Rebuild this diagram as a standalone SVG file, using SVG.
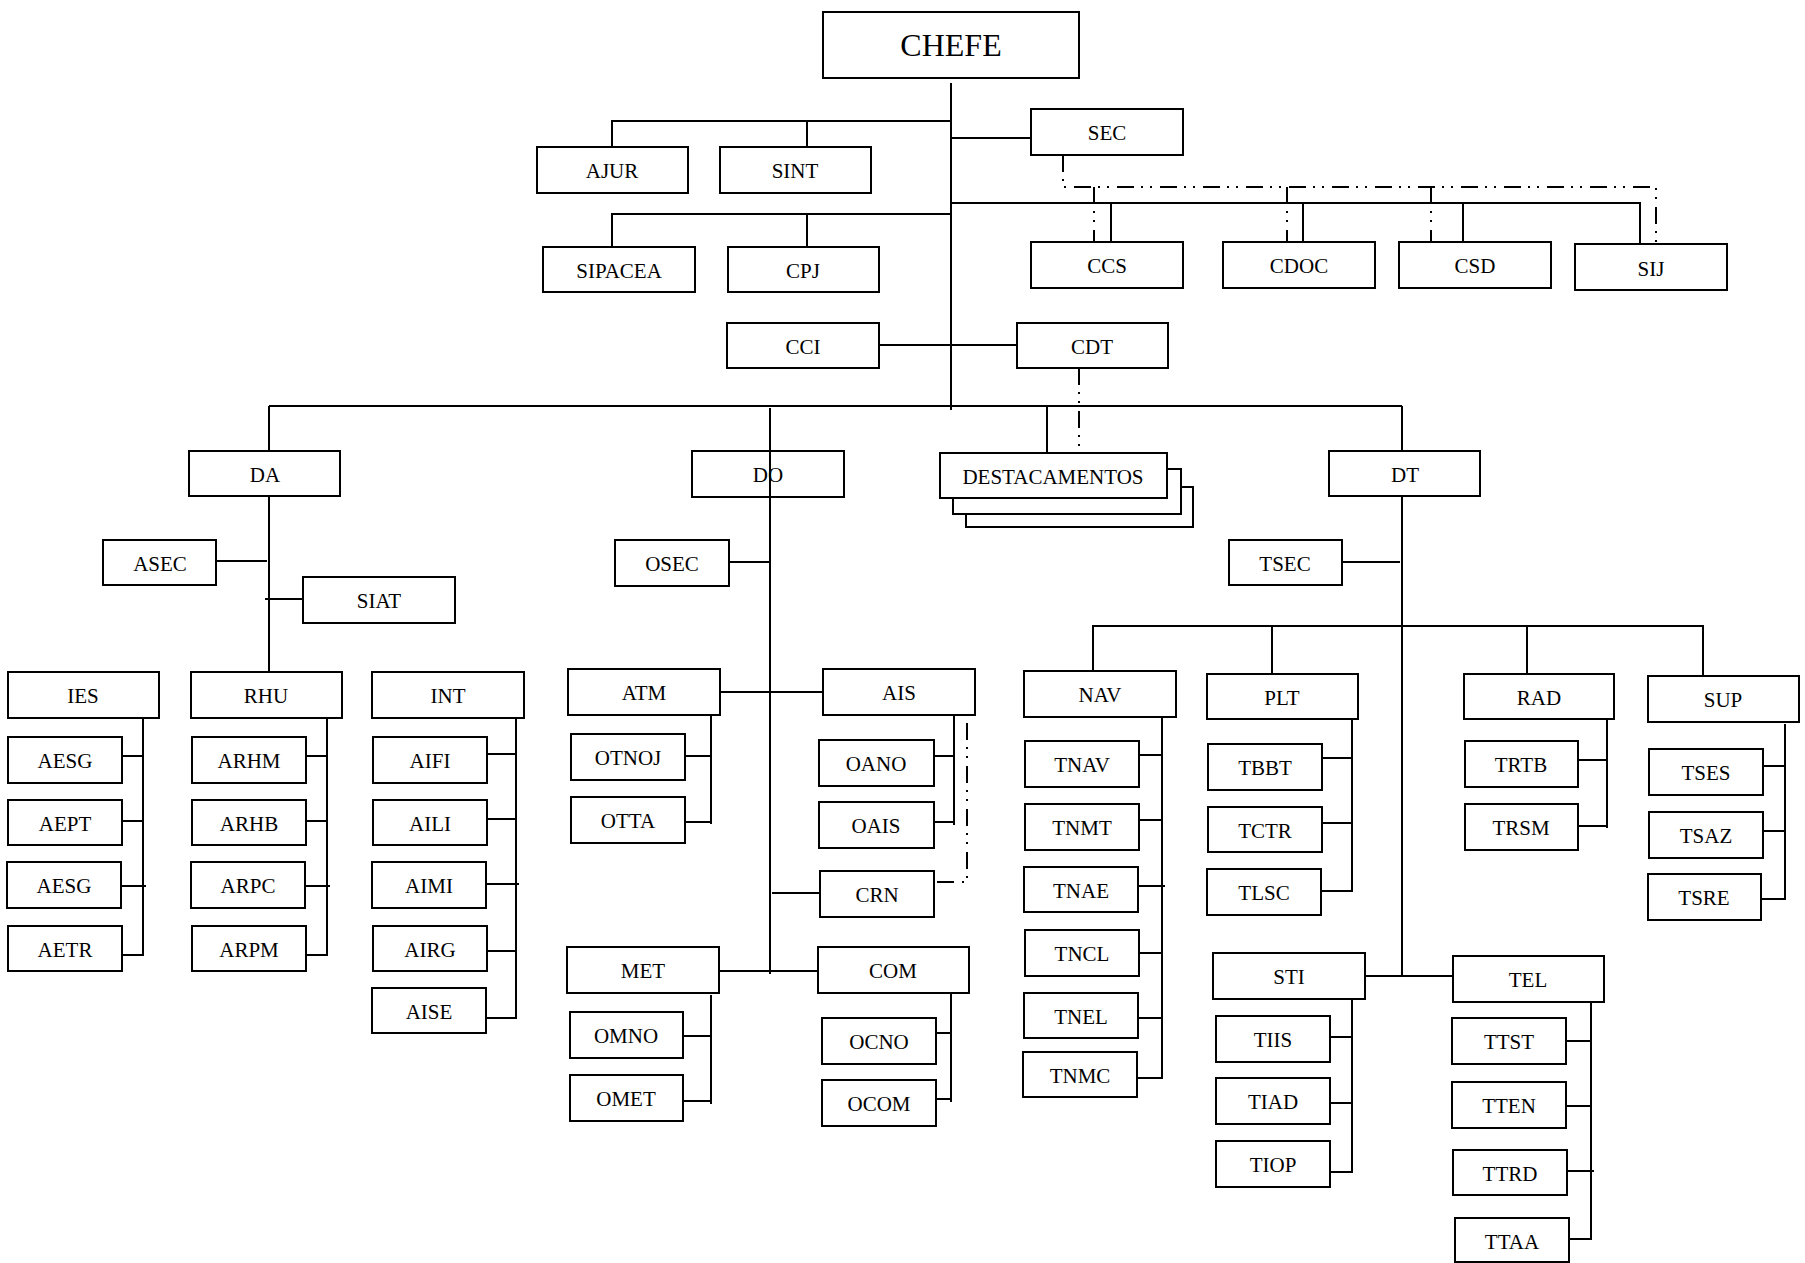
<svg xmlns="http://www.w3.org/2000/svg" width="1805" height="1263" viewBox="0 0 1805 1263">
<style>
rect{fill:#fff;stroke:#000;stroke-width:2}
text{font-family:"Liberation Serif","Times New Roman",serif;font-size:21px;fill:#000;text-anchor:middle}
.big{font-size:32px}
#connectors line,#connectors polyline{stroke:#000;stroke-width:2;fill:none}
#connectors .dd{stroke-dasharray:17 7 2 7 2 8}
</style>
<rect x="0" y="0" width="1805" height="1263" style="stroke:none"/>
<g id="nodes">
<g id="n-chefe"><rect x="823" y="12" width="256" height="66"/><text class="big" x="951" y="56">CHEFE</text></g>
<g id="n-sec"><rect x="1031" y="109" width="152" height="46"/><text x="1107" y="140">SEC</text></g>
<g id="n-ajur"><rect x="537" y="147" width="151" height="46"/><text x="612" y="178">AJUR</text></g>
<g id="n-sint"><rect x="720" y="147" width="151" height="46"/><text x="795" y="178">SINT</text></g>
<g id="n-sipacea"><rect x="543" y="247" width="152" height="45"/><text x="619" y="278">SIPACEA</text></g>
<g id="n-cpj"><rect x="728" y="247" width="151" height="45"/><text x="803" y="278">CPJ</text></g>
<g id="n-ccs"><rect x="1031" y="242" width="152" height="46"/><text x="1107" y="273">CCS</text></g>
<g id="n-cdoc"><rect x="1223" y="242" width="152" height="46"/><text x="1299" y="273">CDOC</text></g>
<g id="n-csd"><rect x="1399" y="242" width="152" height="46"/><text x="1475" y="273">CSD</text></g>
<g id="n-sij"><rect x="1575" y="244" width="152" height="46"/><text x="1651" y="276">SIJ</text></g>
<g id="n-cci"><rect x="727" y="323" width="152" height="45"/><text x="803" y="354">CCI</text></g>
<g id="n-cdt"><rect x="1017" y="323" width="151" height="45"/><text x="1092" y="354">CDT</text></g>
<g id="n-da"><rect x="189" y="451" width="151" height="45"/><text x="265" y="482">DA</text></g>
<g id="n-do"><rect x="692" y="451" width="152" height="46"/><text x="768" y="482">DO</text></g>
<g id="n-destacamentos"><rect x="966" y="487" width="227" height="40"/><rect x="953" y="469" width="228" height="45"/><rect x="940" y="453" width="227" height="45"/><text x="1053" y="484">DESTACAMENTOS</text></g>
<g id="n-dt"><rect x="1329" y="451" width="151" height="45"/><text x="1405" y="482">DT</text></g>
<g id="n-asec"><rect x="103" y="540" width="113" height="45"/><text x="160" y="571">ASEC</text></g>
<g id="n-siat"><rect x="303" y="577" width="152" height="46"/><text x="379" y="608">SIAT</text></g>
<g id="n-osec"><rect x="615" y="540" width="114" height="46"/><text x="672" y="571">OSEC</text></g>
<g id="n-tsec"><rect x="1229" y="540" width="113" height="45"/><text x="1285" y="571">TSEC</text></g>
<g id="n-ies"><rect x="8" y="672" width="151" height="46"/><text x="83" y="703">IES</text></g>
<g id="n-rhu"><rect x="191" y="672" width="151" height="46"/><text x="266" y="703">RHU</text></g>
<g id="n-int"><rect x="372" y="672" width="152" height="46"/><text x="448" y="703">INT</text></g>
<g id="n-aesg1"><rect x="8" y="737" width="114" height="46"/><text x="65" y="768">AESG</text></g>
<g id="n-aept"><rect x="8" y="800" width="114" height="45"/><text x="65" y="831">AEPT</text></g>
<g id="n-aesg2"><rect x="7" y="862" width="114" height="46"/><text x="64" y="893">AESG</text></g>
<g id="n-aetr"><rect x="8" y="926" width="114" height="45"/><text x="65" y="957">AETR</text></g>
<g id="n-arhm"><rect x="192" y="737" width="114" height="46"/><text x="249" y="768">ARHM</text></g>
<g id="n-arhb"><rect x="192" y="800" width="114" height="45"/><text x="249" y="831">ARHB</text></g>
<g id="n-arpc"><rect x="191" y="862" width="114" height="46"/><text x="248" y="893">ARPC</text></g>
<g id="n-arpm"><rect x="192" y="926" width="114" height="45"/><text x="249" y="957">ARPM</text></g>
<g id="n-aifi"><rect x="373" y="737" width="114" height="46"/><text x="430" y="768">AIFI</text></g>
<g id="n-aili"><rect x="373" y="800" width="114" height="45"/><text x="430" y="831">AILI</text></g>
<g id="n-aimi"><rect x="372" y="862" width="114" height="46"/><text x="429" y="893">AIMI</text></g>
<g id="n-airg"><rect x="373" y="926" width="114" height="45"/><text x="430" y="957">AIRG</text></g>
<g id="n-aise"><rect x="372" y="988" width="114" height="45"/><text x="429" y="1019">AISE</text></g>
<g id="n-atm"><rect x="568" y="669" width="152" height="46"/><text x="644" y="700">ATM</text></g>
<g id="n-ais"><rect x="823" y="669" width="152" height="46"/><text x="899" y="700">AIS</text></g>
<g id="n-otnoj"><rect x="571" y="734" width="114" height="46"/><text x="628" y="765">OTNOJ</text></g>
<g id="n-otta"><rect x="571" y="797" width="114" height="46"/><text x="628" y="828">OTTA</text></g>
<g id="n-oano"><rect x="819" y="740" width="115" height="46"/><text x="876" y="771">OANO</text></g>
<g id="n-oais"><rect x="819" y="802" width="115" height="46"/><text x="876" y="833">OAIS</text></g>
<g id="n-crn"><rect x="820" y="871" width="114" height="46"/><text x="877" y="902">CRN</text></g>
<g id="n-met"><rect x="567" y="947" width="152" height="46"/><text x="643" y="978">MET</text></g>
<g id="n-com"><rect x="818" y="947" width="151" height="46"/><text x="893" y="978">COM</text></g>
<g id="n-omno"><rect x="570" y="1012" width="113" height="46"/><text x="626" y="1043">OMNO</text></g>
<g id="n-omet"><rect x="570" y="1075" width="113" height="46"/><text x="626" y="1106">OMET</text></g>
<g id="n-ocno"><rect x="822" y="1018" width="114" height="46"/><text x="879" y="1049">OCNO</text></g>
<g id="n-ocom"><rect x="822" y="1080" width="114" height="46"/><text x="879" y="1111">OCOM</text></g>
<g id="n-nav"><rect x="1024" y="671" width="152" height="46"/><text x="1100" y="702">NAV</text></g>
<g id="n-plt"><rect x="1207" y="674" width="151" height="45"/><text x="1282" y="705">PLT</text></g>
<g id="n-rad"><rect x="1464" y="674" width="150" height="45"/><text x="1539" y="705">RAD</text></g>
<g id="n-sup"><rect x="1648" y="676" width="151" height="46"/><text x="1723" y="707">SUP</text></g>
<g id="n-tnav"><rect x="1025" y="741" width="114" height="46"/><text x="1082" y="772">TNAV</text></g>
<g id="n-tnmt"><rect x="1025" y="804" width="114" height="46"/><text x="1082" y="835">TNMT</text></g>
<g id="n-tnae"><rect x="1024" y="867" width="114" height="45"/><text x="1081" y="898">TNAE</text></g>
<g id="n-tncl"><rect x="1025" y="930" width="114" height="46"/><text x="1082" y="961">TNCL</text></g>
<g id="n-tnel"><rect x="1024" y="993" width="114" height="45"/><text x="1081" y="1024">TNEL</text></g>
<g id="n-tnmc"><rect x="1023" y="1052" width="114" height="45"/><text x="1080" y="1083">TNMC</text></g>
<g id="n-tbbt"><rect x="1208" y="744" width="114" height="46"/><text x="1265" y="775">TBBT</text></g>
<g id="n-tctr"><rect x="1208" y="807" width="114" height="45"/><text x="1265" y="838">TCTR</text></g>
<g id="n-tlsc"><rect x="1207" y="869" width="114" height="46"/><text x="1264" y="900">TLSC</text></g>
<g id="n-trtb"><rect x="1465" y="741" width="113" height="46"/><text x="1521" y="772">TRTB</text></g>
<g id="n-trsm"><rect x="1465" y="804" width="113" height="46"/><text x="1521" y="835">TRSM</text></g>
<g id="n-tses"><rect x="1649" y="749" width="114" height="46"/><text x="1706" y="780">TSES</text></g>
<g id="n-tsaz"><rect x="1649" y="812" width="114" height="46"/><text x="1706" y="843">TSAZ</text></g>
<g id="n-tsre"><rect x="1648" y="874" width="113" height="46"/><text x="1704" y="905">TSRE</text></g>
<g id="n-sti"><rect x="1213" y="953" width="152" height="46"/><text x="1289" y="984">STI</text></g>
<g id="n-tel"><rect x="1453" y="956" width="151" height="46"/><text x="1528" y="987">TEL</text></g>
<g id="n-tiis"><rect x="1216" y="1016" width="114" height="46"/><text x="1273" y="1047">TIIS</text></g>
<g id="n-tiad"><rect x="1216" y="1078" width="114" height="46"/><text x="1273" y="1109">TIAD</text></g>
<g id="n-tiop"><rect x="1216" y="1141" width="114" height="46"/><text x="1273" y="1172">TIOP</text></g>
<g id="n-ttst"><rect x="1452" y="1018" width="114" height="46"/><text x="1509" y="1049">TTST</text></g>
<g id="n-tten"><rect x="1452" y="1082" width="114" height="46"/><text x="1509" y="1113">TTEN</text></g>
<g id="n-ttrd"><rect x="1453" y="1150" width="114" height="45"/><text x="1510" y="1181">TTRD</text></g>
<g id="n-ttaa"><rect x="1455" y="1218" width="114" height="44"/><text x="1512" y="1249">TTAA</text></g>
</g>
<g id="connectors">
<line x1="951" y1="83" x2="951" y2="410"/>
<polyline points="612,147 612,121 951,121"/>
<line x1="807" y1="121" x2="807" y2="147"/>
<line x1="951" y1="138" x2="1031" y2="138"/>
<polyline points="612,247 612,214 951,214"/>
<line x1="807" y1="214" x2="807" y2="247"/>
<polyline points="951,203 1640,203 1640,244"/>
<line x1="1111" y1="203" x2="1111" y2="242"/>
<line x1="1303" y1="203" x2="1303" y2="242"/>
<line x1="1463" y1="203" x2="1463" y2="242"/>
<polyline class="dd" points="1063,155 1063,187 1656,187 1656,244"/>
<line class="dd" x1="1094" y1="187" x2="1094" y2="242"/>
<line class="dd" x1="1287" y1="187" x2="1287" y2="242"/>
<line class="dd" x1="1431" y1="187" x2="1431" y2="242"/>
<line x1="879" y1="345" x2="1017" y2="345"/>
<line class="dd" x1="1079" y1="368" x2="1079" y2="453"/>
<line x1="269" y1="406" x2="1402" y2="406"/>
<line x1="269" y1="406" x2="269" y2="451"/>
<line x1="269" y1="496" x2="269" y2="672"/>
<line x1="216" y1="561" x2="267" y2="561"/>
<line x1="265" y1="599" x2="303" y2="599"/>
<polyline points="143,718 143,955 122,955"/>
<line x1="122" y1="756" x2="143" y2="756"/>
<line x1="122" y1="821" x2="143" y2="821"/>
<line x1="121" y1="886" x2="146" y2="886"/>
<polyline points="327,718 327,955 306,955"/>
<line x1="306" y1="756" x2="327" y2="756"/>
<line x1="306" y1="821" x2="327" y2="821"/>
<line x1="305" y1="886" x2="330" y2="886"/>
<polyline points="516,718 516,1018 486,1018"/>
<line x1="487" y1="754" x2="516" y2="754"/>
<line x1="487" y1="819" x2="516" y2="819"/>
<line x1="486" y1="884" x2="519" y2="884"/>
<line x1="487" y1="951" x2="516" y2="951"/>
<line x1="770" y1="408" x2="770" y2="974"/>
<line x1="729" y1="562" x2="770" y2="562"/>
<line x1="720" y1="692" x2="823" y2="692"/>
<line x1="711" y1="715" x2="711" y2="824"/>
<line x1="685" y1="756" x2="711" y2="756"/>
<line x1="685" y1="822" x2="711" y2="822"/>
<line x1="954" y1="715" x2="954" y2="825"/>
<line x1="934" y1="756" x2="954" y2="756"/>
<line x1="934" y1="822" x2="954" y2="822"/>
<polyline class="dd" points="967,723 967,882 934,882"/>
<line x1="772" y1="893" x2="820" y2="893"/>
<line x1="719" y1="971" x2="818" y2="971"/>
<line x1="711" y1="995" x2="711" y2="1104"/>
<line x1="683" y1="1036" x2="711" y2="1036"/>
<line x1="683" y1="1101" x2="711" y2="1101"/>
<line x1="951" y1="993" x2="951" y2="1102"/>
<line x1="936" y1="1033" x2="951" y2="1033"/>
<line x1="936" y1="1099" x2="951" y2="1099"/>
<line x1="1047" y1="406" x2="1047" y2="453"/>
<line x1="1402" y1="406" x2="1402" y2="451"/>
<line x1="1402" y1="496" x2="1402" y2="976"/>
<line x1="1342" y1="562" x2="1400" y2="562"/>
<polyline points="1093,671 1093,626 1703,626 1703,676"/>
<line x1="1272" y1="626" x2="1272" y2="674"/>
<line x1="1527" y1="626" x2="1527" y2="674"/>
<polyline points="1162,717 1162,1078 1137,1078"/>
<line x1="1139" y1="755" x2="1162" y2="755"/>
<line x1="1139" y1="820" x2="1162" y2="820"/>
<line x1="1138" y1="886" x2="1165" y2="886"/>
<line x1="1139" y1="953" x2="1162" y2="953"/>
<line x1="1138" y1="1018" x2="1162" y2="1018"/>
<polyline points="1352,719 1352,891 1321,891"/>
<line x1="1322" y1="758" x2="1352" y2="758"/>
<line x1="1322" y1="823" x2="1352" y2="823"/>
<line x1="1607" y1="719" x2="1607" y2="828"/>
<line x1="1578" y1="760" x2="1607" y2="760"/>
<line x1="1578" y1="826" x2="1607" y2="826"/>
<polyline points="1785,724 1785,899 1761,899"/>
<line x1="1763" y1="766" x2="1785" y2="766"/>
<line x1="1763" y1="831" x2="1785" y2="831"/>
<line x1="1365" y1="976" x2="1453" y2="976"/>
<polyline points="1352,999 1352,1172 1330,1172"/>
<line x1="1330" y1="1037" x2="1352" y2="1037"/>
<line x1="1330" y1="1103" x2="1352" y2="1103"/>
<polyline points="1591,1002 1591,1239 1569,1239"/>
<line x1="1566" y1="1041" x2="1591" y2="1041"/>
<line x1="1566" y1="1106" x2="1591" y2="1106"/>
<line x1="1567" y1="1171" x2="1594" y2="1171"/>
</g>
</svg>
